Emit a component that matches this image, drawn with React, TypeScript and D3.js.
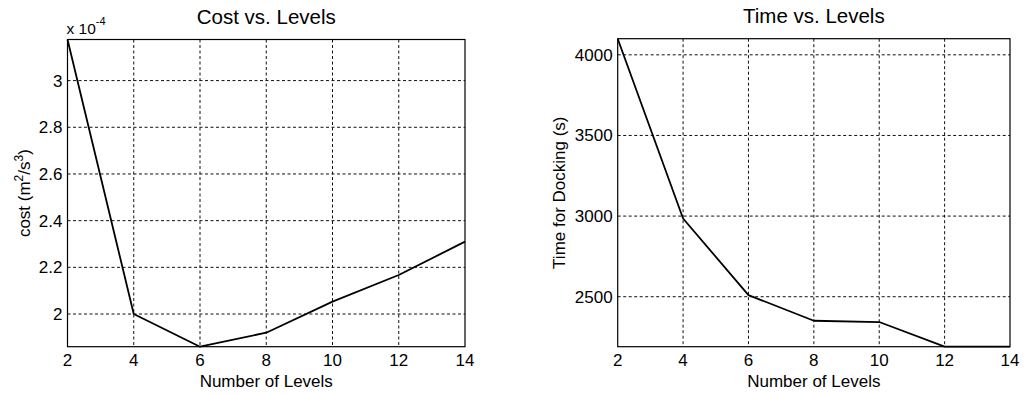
import React from "react";
import * as d3 from "d3";

// Number of quantisation levels (shared x values)
const levels = [2, 4, 6, 8, 10, 12, 14];
// Cost in units of 1e-4 m^2/s^3
const costValues = [3.176, 2.0, 1.86, 1.92, 2.053, 2.167, 2.31];
// Time for docking in seconds
const timeValues = [4100, 2985, 2510, 2351, 2343, 2190, 2190];

const xTickValues = [2, 4, 6, 8, 10, 12, 14];
const costTicks = [2, 2.2, 2.4, 2.6, 2.8, 3];
const costTickLabels = ["2", "2.2", "2.4", "2.6", "2.8", "3"];
const timeTicks = [2500, 3000, 3500, 4000];
const timeTickLabels = ["2500", "3000", "3500", "4000"];

const FONT = "'Liberation Sans', Arial, Helvetica, sans-serif";

type PanelProps = {
  left: number;
  right: number;
  top: number;
  bottom: number;
  values: number[];
  yTicks: number[];
  yTickLabels: string[];
  title: string;
  yLabel: React.ReactNode;
  yLabelX: number;
  exponent?: boolean;
};

function Panel(p: PanelProps) {
  const x = d3.scaleLinear().domain([levels[0], levels[levels.length - 1]]).range([p.left, p.right]);
  const ext = d3.extent(p.values) as [number, number];
  const y = d3.scaleLinear().domain(ext).range([p.bottom, p.top]);
  const line = d3
    .line<number>()
    .x((_, i) => x(levels[i]))
    .y((d) => y(d));
  const cx = (p.left + p.right) / 2;
  const cy = (p.top + p.bottom) / 2;
  const grid = { stroke: "#111", strokeWidth: 1, strokeDasharray: "3,2.5" };
  return (
    <g fontFamily={FONT} fill="#000">
      {/* grid */}
      {xTickValues.slice(1, -1).map((t) => (
        <line key={"gx" + t} x1={x(t)} x2={x(t)} y1={p.top} y2={p.bottom} {...grid} />
      ))}
      {p.yTicks.map((t) => (
        <line key={"gy" + t} x1={p.left} x2={p.right} y1={y(t)} y2={y(t)} {...grid} />
      ))}
      {/* data */}
      <path d={line(p.values) || ""} fill="none" stroke="#000" strokeWidth={1.8} strokeLinejoin="round" />
      {/* axes box */}
      <rect x={p.left} y={p.top} width={p.right - p.left} height={p.bottom - p.top} fill="none" stroke="#000" strokeWidth={1.2} />
      {/* x tick labels */}
      {xTickValues.map((t) => (
        <text key={"xt" + t} x={x(t)} y={p.bottom + 19} fontSize={17} textAnchor="middle">
          {t}
        </text>
      ))}
      {/* y tick labels */}
      {p.yTicks.map((t, i) => (
        <text key={"yt" + t} x={p.left - 5} y={y(t) + 6} fontSize={17} textAnchor="end">
          {p.yTickLabels[i]}
        </text>
      ))}
      {p.exponent && (
        <text x={p.left - 1} y={p.top - 6} fontSize={15.5}>
          x 10
          <tspan dy={-9} fontSize={11}>
            -4
          </tspan>
        </text>
      )}
      <text x={cx} y={p.top - 16} fontSize={20.5} textAnchor="middle">
        {p.title}
      </text>
      <text x={cx} y={p.bottom + 40} fontSize={17} textAnchor="middle">
        Number of Levels
      </text>
      <text transform={`translate(${p.yLabelX},${cy}) rotate(-90)`} fontSize={17} textAnchor="middle">
        {p.yLabel}
      </text>
    </g>
  );
}

export default function App() {
  return (
    <div style={{ position: "absolute", left: 0, top: 0 }}>
      <svg width={1025} height={394} style={{ display: "block", background: "#fff" }}>
        <Panel
          left={67.5}
          right={465}
          top={39.5}
          bottom={346.7}
          values={costValues}
          yTicks={costTicks}
          yTickLabels={costTickLabels}
          title="Cost vs. Levels"
          yLabelX={30}
          exponent
          yLabel={
            <>
              cost (m
              <tspan dy={-7} fontSize={12}>2</tspan>
              <tspan dy={7}>/s</tspan>
              <tspan dy={-7} fontSize={12}>3</tspan>
              <tspan dy={7}>)</tspan>
            </>
          }
        />
        <Panel
          left={617.7}
          right={1010}
          top={38.7}
          bottom={346.7}
          values={timeValues}
          yTicks={timeTicks}
          yTickLabels={timeTickLabels}
          title="Time vs. Levels"
          yLabelX={565}
          yLabel="Time for Docking (s)"
        />
      </svg>
    </div>
  );
}
